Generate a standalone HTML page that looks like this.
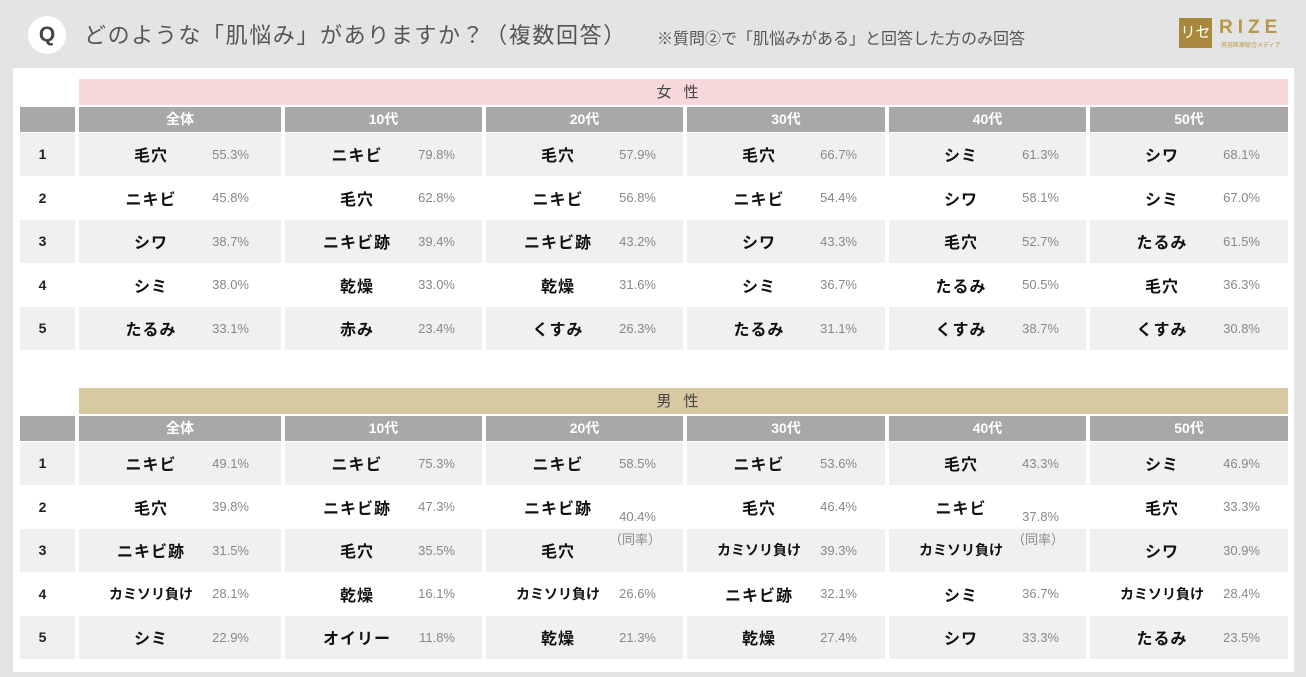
<!DOCTYPE html>
<html><head><meta charset="utf-8"><style>
body{margin:0;width:1306px;height:677px;background:#e4e4e4;font-family:"Liberation Sans","Noto Sans CJK JP",sans-serif;position:relative;overflow:hidden}
.q{position:absolute;left:28px;top:16px;width:38px;height:38px;border-radius:50%;background:#fff;text-align:center;line-height:38px;font-size:21px;color:#444;font-weight:bold}
.t{position:absolute;left:84px;top:18px;font-size:22px;color:#555;letter-spacing:1.6px;white-space:nowrap}
.n{position:absolute;left:657px;top:25px;font-size:16px;color:#555;white-space:nowrap}
.logo{position:absolute;left:1179px;top:18px;width:33px;height:30px;background:#a8883c;color:#fff;font-size:15px;text-align:center;line-height:30px;white-space:nowrap;overflow:hidden}
.rz{position:absolute;left:1219px;top:17px;color:#b8974a;font-size:19px;letter-spacing:5px;font-weight:bold;white-space:nowrap}
.rzs{position:absolute;left:1221px;top:40px;color:#b8974a;font-size:6px;white-space:nowrap}
.panel{position:absolute;left:13px;top:68px;width:1281px;height:604px;background:#fff}
.g{position:absolute;left:20px;display:grid;grid-template-columns:55px 202px 197px 197px 198px 197px 198px;grid-template-rows:27px 25px repeat(5,42.5px);column-gap:4px;row-gap:1px}
.sex{grid-column:2/8;text-align:center;font-size:15px;color:#444;line-height:27px;letter-spacing:12px;margin-bottom:1px}
.h{background:#a9a7a7;color:#fff;font-weight:bold;font-size:14px;text-align:center;line-height:25px}
.c{position:relative;background:#f0f0f0;display:flex;align-items:center}
.w{background:#fff}
.r{justify-content:center;font-size:14px;font-weight:bold;color:#222;padding-right:10px}
.c b{position:absolute;left:0;width:144px;text-align:center;font-size:16px;color:#111;letter-spacing:1px}
.c i{position:absolute;left:120px;width:50px;text-align:right;font-style:normal;font-size:13px;color:#888}
.sm b{font-size:14px;letter-spacing:0}
</style></head><body>
<div class="q">Q</div>
<div class="t">どのような「肌悩み」がありますか？（複数回答）</div>
<div class="n">※質問②で「肌悩みがある」と回答した方のみ回答</div>
<div class="logo">リセ</div><div class="rz">RIZE</div><div class="rzs">美容医療総合メディア</div>
<div class="panel"></div>

<div class="g" style="top:79px">
<div></div><div class="sex" style="background:#f8d8da">女性</div>
<div class="h"></div><div class="h">全体</div><div class="h">10代</div><div class="h">20代</div><div class="h">30代</div><div class="h">40代</div><div class="h">50代</div>
<div class="c r">1</div><div class="c"><b>毛穴</b><i>55.3%</i></div><div class="c"><b>ニキビ</b><i>79.8%</i></div><div class="c"><b>毛穴</b><i>57.9%</i></div><div class="c"><b>毛穴</b><i>66.7%</i></div><div class="c"><b>シミ</b><i>61.3%</i></div><div class="c"><b>シワ</b><i>68.1%</i></div>
<div class="c w r">2</div><div class="c w"><b>ニキビ</b><i>45.8%</i></div><div class="c w"><b>毛穴</b><i>62.8%</i></div><div class="c w"><b>ニキビ</b><i>56.8%</i></div><div class="c w"><b>ニキビ</b><i>54.4%</i></div><div class="c w"><b>シワ</b><i>58.1%</i></div><div class="c w"><b>シミ</b><i>67.0%</i></div>
<div class="c r">3</div><div class="c"><b>シワ</b><i>38.7%</i></div><div class="c"><b>ニキビ跡</b><i>39.4%</i></div><div class="c"><b>ニキビ跡</b><i>43.2%</i></div><div class="c"><b>シワ</b><i>43.3%</i></div><div class="c"><b>毛穴</b><i>52.7%</i></div><div class="c"><b>たるみ</b><i>61.5%</i></div>
<div class="c w r">4</div><div class="c w"><b>シミ</b><i>38.0%</i></div><div class="c w"><b>乾燥</b><i>33.0%</i></div><div class="c w"><b>乾燥</b><i>31.6%</i></div><div class="c w"><b>シミ</b><i>36.7%</i></div><div class="c w"><b>たるみ</b><i>50.5%</i></div><div class="c w"><b>毛穴</b><i>36.3%</i></div>
<div class="c r">5</div><div class="c"><b>たるみ</b><i>33.1%</i></div><div class="c"><b>赤み</b><i>23.4%</i></div><div class="c"><b>くすみ</b><i>26.3%</i></div><div class="c"><b>たるみ</b><i>31.1%</i></div><div class="c"><b>くすみ</b><i>38.7%</i></div><div class="c"><b>くすみ</b><i>30.8%</i></div>
</div>

<div class="g" style="top:388px">
<div></div><div class="sex" style="background:#d9c9a3">男性</div>
<div class="h"></div><div class="h">全体</div><div class="h">10代</div><div class="h">20代</div><div class="h">30代</div><div class="h">40代</div><div class="h">50代</div>
<div class="c r">1</div><div class="c"><b>ニキビ</b><i>49.1%</i></div><div class="c"><b>ニキビ</b><i>75.3%</i></div><div class="c"><b>ニキビ</b><i>58.5%</i></div><div class="c"><b>ニキビ</b><i>53.6%</i></div><div class="c"><b>毛穴</b><i>43.3%</i></div><div class="c"><b>シミ</b><i>46.9%</i></div>
<div class="c w r">2</div><div class="c w"><b>毛穴</b><i>39.8%</i></div><div class="c w"><b>ニキビ跡</b><i>47.3%</i></div><div class="c w"><b>ニキビ跡</b><i style="top:23px">40.4%</i></div><div class="c w"><b>毛穴</b><i>46.4%</i></div><div class="c w"><b>ニキビ</b><i style="top:23px">37.8%</i></div><div class="c w"><b>毛穴</b><i>33.3%</i></div>
<div class="c r">3</div><div class="c"><b>ニキビ跡</b><i>31.5%</i></div><div class="c"><b>毛穴</b><i>35.5%</i></div><div class="c"><b>毛穴</b><i style="top:0px;left:115px;width:60px">（同率）</i></div><div class="c sm"><b>カミソリ負け</b><i>39.3%</i></div><div class="c sm"><b>カミソリ負け</b><i style="top:0px;left:115px;width:60px">（同率）</i></div><div class="c"><b>シワ</b><i>30.9%</i></div>
<div class="c w r">4</div><div class="c w sm"><b>カミソリ負け</b><i>28.1%</i></div><div class="c w"><b>乾燥</b><i>16.1%</i></div><div class="c w sm"><b>カミソリ負け</b><i>26.6%</i></div><div class="c w"><b>ニキビ跡</b><i>32.1%</i></div><div class="c w"><b>シミ</b><i>36.7%</i></div><div class="c w sm"><b>カミソリ負け</b><i>28.4%</i></div>
<div class="c r">5</div><div class="c"><b>シミ</b><i>22.9%</i></div><div class="c"><b>オイリー</b><i>11.8%</i></div><div class="c"><b>乾燥</b><i>21.3%</i></div><div class="c"><b>乾燥</b><i>27.4%</i></div><div class="c"><b>シワ</b><i>33.3%</i></div><div class="c"><b>たるみ</b><i>23.5%</i></div>
</div>
</body></html>
